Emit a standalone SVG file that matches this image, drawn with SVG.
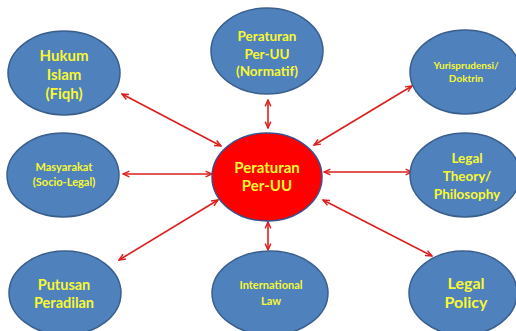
<svg xmlns="http://www.w3.org/2000/svg" width="516" height="331" viewBox="0 0 516 331">
<style>
.n{fill:#4F81BD;stroke:#3A5F8C;stroke-width:1.5}
.c{fill:#FF0000;stroke:#3A4F8C;stroke-width:1.5}
.t{font-family:Lato,"Open Sans",sans-serif;font-weight:bold;fill:#F8F832;text-anchor:middle}
.a{stroke:#DD1E1E;stroke-width:1.6;fill:none;marker-start:url(#ah);marker-end:url(#ah)}
</style>
<defs>
<marker id="ah" viewBox="0 0 10 10" refX="9" refY="5" markerWidth="8" markerHeight="8" orient="auto-start-reverse" markerUnits="userSpaceOnUse">
<path d="M1,1.5 L9,5 L1,8.5" fill="none" stroke="#DD1E1E" stroke-width="1.8"/>
</marker>
</defs>
<rect width="516" height="331" fill="#FFFFFF"/>
<g id="connectors">
<line class="a" x1="221" y1="146" x2="122" y2="94"/>
<line class="a" x1="268" y1="128" x2="268" y2="100"/>
<line class="a" x1="314" y1="145" x2="412" y2="86"/>
<line class="a" x1="212" y1="174" x2="123" y2="174"/>
<line class="a" x1="324" y1="172" x2="412" y2="172"/>
<line class="a" x1="218" y1="200" x2="119" y2="260"/>
<line class="a" x1="268" y1="222" x2="268" y2="250"/>
<line class="a" x1="323" y1="200" x2="432" y2="256"/>
</g>
<g id="hukum"><ellipse class="n" cx="64" cy="73" rx="56" ry="42"/>
<text class="t" font-size="15" x="64" y="61">Hukum</text>
<text class="t" font-size="15" x="64" y="80">Islam</text>
<text class="t" font-size="15" x="64" y="99">(Fiqh)</text></g>
<g id="normatif"><ellipse class="n" cx="267" cy="51" rx="56" ry="43"/>
<text class="t" font-size="13.5" x="267" y="41">Peraturan</text>
<text class="t" font-size="13.5" x="267" y="59">Per-UU</text>
<text class="t" font-size="13.5" x="267" y="76">(Normatif)</text></g>
<g id="yurisprudensi"><ellipse class="n" cx="465" cy="72" rx="55" ry="42"/>
<text class="t" font-size="10" x="466" y="69">Yurisprudensi/</text>
<text class="t" font-size="10" x="466" y="82">Doktrin</text></g>
<g id="masyarakat"><ellipse class="n" cx="63" cy="175" rx="56" ry="42"/>
<text class="t" font-size="11" x="64" y="171">Masyarakat</text>
<text class="t" font-size="11" x="64" y="186">(Socio-Legal)</text></g>
<g id="center"><ellipse class="c" cx="267" cy="177" rx="55" ry="44"/>
<text class="t" font-size="15" x="267" y="173">Peraturan</text>
<text class="t" font-size="15" x="267" y="191">Per-UU</text></g>
<g id="legaltheory"><ellipse class="n" cx="465" cy="175" rx="55" ry="42"/>
<text class="t" font-size="13.5" x="467" y="163">Legal</text>
<text class="t" font-size="13.5" x="467" y="181">Theory/</text>
<text class="t" font-size="13.5" x="467" y="199">Philosophy</text></g>
<g id="putusan"><ellipse class="n" cx="65" cy="293" rx="56" ry="42"/>
<text class="t" font-size="14.5" x="64" y="290">Putusan</text>
<text class="t" font-size="14.5" x="64" y="308">Peradilan</text></g>
<g id="international"><ellipse class="n" cx="270" cy="293" rx="58" ry="42"/>
<text class="t" font-size="11" x="271" y="289">International</text>
<text class="t" font-size="11" x="271" y="305">Law</text></g>
<g id="legalpolicy"><ellipse class="n" cx="463" cy="293" rx="54" ry="42"/>
<text class="t" font-size="16" x="466" y="289">Legal</text>
<text class="t" font-size="16" x="466" y="308">Policy</text></g>
</svg>
